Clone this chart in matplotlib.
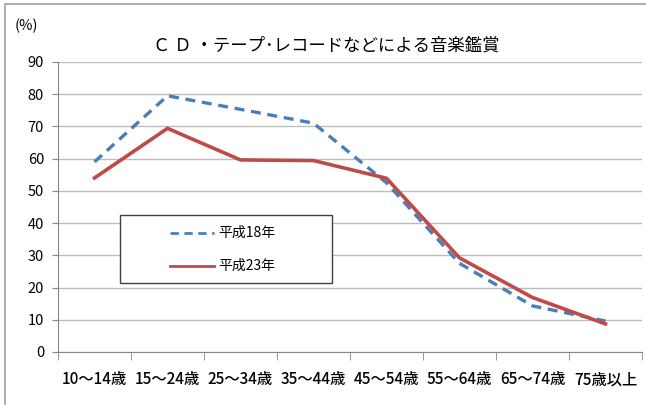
import matplotlib.pyplot as plt
from matplotlib.patches import Rectangle
from matplotlib.lines import Line2D

plt.rcParams['font.family'] = ['Noto Sans CJK JP', 'DejaVu Sans']

# age groups and participation rates (%)
ages = ['10～14歳', '15～24歳', '25～34歳', '35～44歳',
        '45～54歳', '55～64歳', '65～74歳', '75歳以上']
h18 = [59.0, 79.5, 75.3, 71.0, 52.5, 27.5, 14.3, 9.6]
h23 = [54.0, 69.4, 59.6, 59.4, 53.9, 29.2, 16.9, 8.7]
series_names = ['平成18年', '平成23年']

blue = '#4A7EBB'
red = '#BE4B48'

fig = plt.figure(figsize=(6.46, 4.05), dpi=100)
ax = fig.add_axes([0.0898, 0.131, 0.9040, 0.716])

x = range(len(ages))
ax.plot(x, h18, color=blue, lw=2.4, linestyle=(0, (3, 2)), solid_capstyle='butt')
ax.plot(x, h23, color=red, lw=2.6, solid_joinstyle='miter')

ax.set_xlim(-0.5, len(ages) - 0.5)
ax.set_ylim(0, 90)
ax.set_yticks(range(0, 91, 10))
ax.tick_params(axis='y', labelsize=10.5, length=4, color='#868686', pad=6)
ax.set_xticks(list(x))
ax.set_xticklabels(ages, fontsize=11, fontweight='medium')
ax.tick_params(axis='x', which='major', length=0, pad=14)
ax.set_xticks([i - 0.5 for i in range(len(ages) + 1)], minor=True)
ax.tick_params(axis='x', which='minor', length=6, color='#868686')
ax.grid(axis='y', color='#BDBDBD', lw=1)
ax.set_axisbelow(True)
for s in ['top', 'right']:
    ax.spines[s].set_visible(False)
for s in ['left', 'bottom']:
    ax.spines[s].set_color('#868686')

fig.text(0.505, 0.888, 'Ｃ Ｄ ・テープ･レコードなどによる音楽鑑賞',
         ha='center', va='center', fontsize=12.5)
fig.text(0.022, 0.935, '(%)', ha='left', va='center', fontsize=10.5)

# outer chart frame
fig.patches.append(Rectangle((0.008, -0.05), 1.1, 1.04, transform=fig.transFigure,
                             fill=False, edgecolor='#A0A0A0', lw=1.2))

# legend box
fig.patches.append(Rectangle((120 / 646, 1 - 283 / 405), 212 / 646, 68 / 405,
                             transform=fig.transFigure, facecolor='white',
                             edgecolor='#404040', lw=1, zorder=5))
for i, (c, ls) in enumerate([(blue, (0, (3, 2))), (red, '-')]):
    yy = 1 - (233 + 33 * i) / 405
    fig.add_artist(Line2D([170 / 646, 214 / 646], [yy, yy], color=c, lw=2,
                          linestyle=ls, transform=fig.transFigure, zorder=6))
    fig.text(218 / 646, yy, series_names[i], ha='left', va='center',
             fontsize=10, zorder=6)

fig.savefig('out.png', dpi=100)
